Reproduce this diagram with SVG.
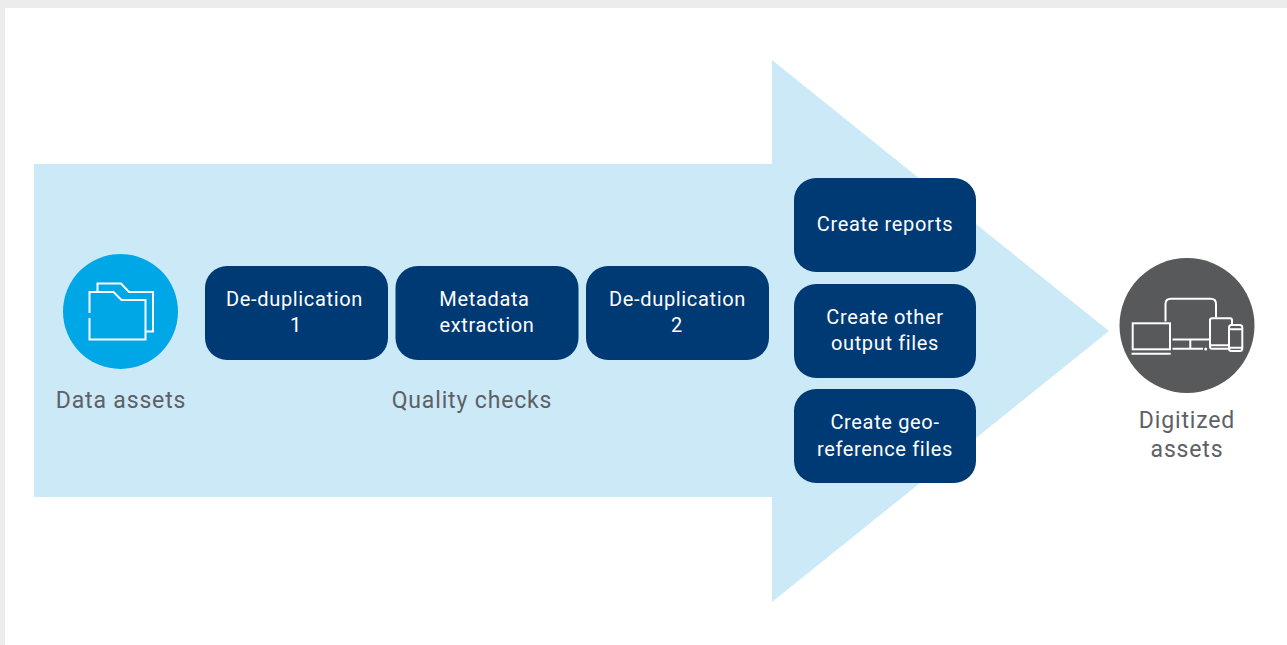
<svg xmlns="http://www.w3.org/2000/svg" width="1287" height="645" viewBox="0 0 1287 645">
<style>
text{font-family:"Roboto","Liberation Sans",sans-serif;text-anchor:middle}
.b{fill:#003a75}
.w{fill:#fff;font-size:20px;letter-spacing:.65px}
.g{fill:#5d6064;font-size:23px;letter-spacing:.85px}
.i{fill:none;stroke:#fff;stroke-width:2}
</style>
<rect width="1287" height="645" fill="#ececec"/>
<rect x="5" y="8" width="1282" height="637" fill="#fff"/>
<polygon id="arrow" fill="#cce9f8" points="34,164 772,164 772,60 1109,331 772,602 772,497 34,497"/>
<g id="data-assets">
<circle cx="120.500" cy="311.500" r="57.500" fill="#00a7e6"/>
<path class="i" d="M89.500 313V292H113.500L121.500 300H145.500V339.500H89.500V318M97.500 292V283.500H121L129 292H153V331.500H145.500"/>
<text class="g" x="121" y="408">Data assets</text>
</g>
<g id="dedup-1"><rect class="b" x="205" y="266" width="183" height="94" rx="22"/><text class="w" x="294.500" y="306">De-duplication</text><text class="w" x="296" y="332">1</text></g>
<g id="metadata"><rect class="b" x="395.500" y="266" width="183" height="94" rx="22"/><text class="w" x="484.500" y="306">Metadata</text><text class="w" x="487" y="332">extraction</text></g>
<g id="dedup-2"><rect class="b" x="586" y="266" width="183" height="94" rx="22"/><text class="w" x="677.500" y="306">De-duplication</text><text class="w" x="677" y="332">2</text></g>
<text id="quality-checks" class="g" x="472" y="408">Quality checks</text>
<g id="reports"><rect class="b" x="794" y="178" width="182" height="94" rx="22"/><text class="w" x="885" y="231">Create reports</text></g>
<g id="output-files"><rect class="b" x="794" y="284" width="182" height="94" rx="22"/><text class="w" x="885" y="324">Create other</text><text class="w" x="885" y="350">output files</text></g>
<g id="geo-files"><rect class="b" x="794" y="389" width="182" height="94" rx="22"/><text class="w" x="885" y="429">Create geo-</text><text class="w" x="885" y="456">reference files</text></g>
<g id="digitized-assets">
<circle cx="1187" cy="325.500" r="67.500" fill="#58595b"/>
<path class="i" d="M1165.500 321.500V304Q1165.500 298.700 1171 298.700H1210.500Q1216 298.700 1216 304V317.500M1172.500 339.500H1209.500M1190.300 339.500V348.500M1172.500 348.700H1203"/>
<circle cx="1205.700" cy="349" r="1.500" fill="#fff"/>
<rect class="i" x="1132.700" y="323.300" width="37.300" height="26"/>
<path class="i" d="M1131.500 353.700H1170.700"/>
<path class="i" d="M1229 348.700H1212Q1210 348.700 1210 346.700V320.300Q1210 318.300 1212 318.300H1230Q1232 318.300 1232 320.300V325M1210 345.300H1229"/>
<rect class="i" x="1229" y="325" width="13.300" height="26" rx="2.500"/>
<path class="i" d="M1229 329.300H1242.300M1229 347.700H1242.300"/>
<text class="g" x="1187" y="428">Digitized</text>
<text class="g" x="1187" y="457">assets</text>
</g>
</svg>
